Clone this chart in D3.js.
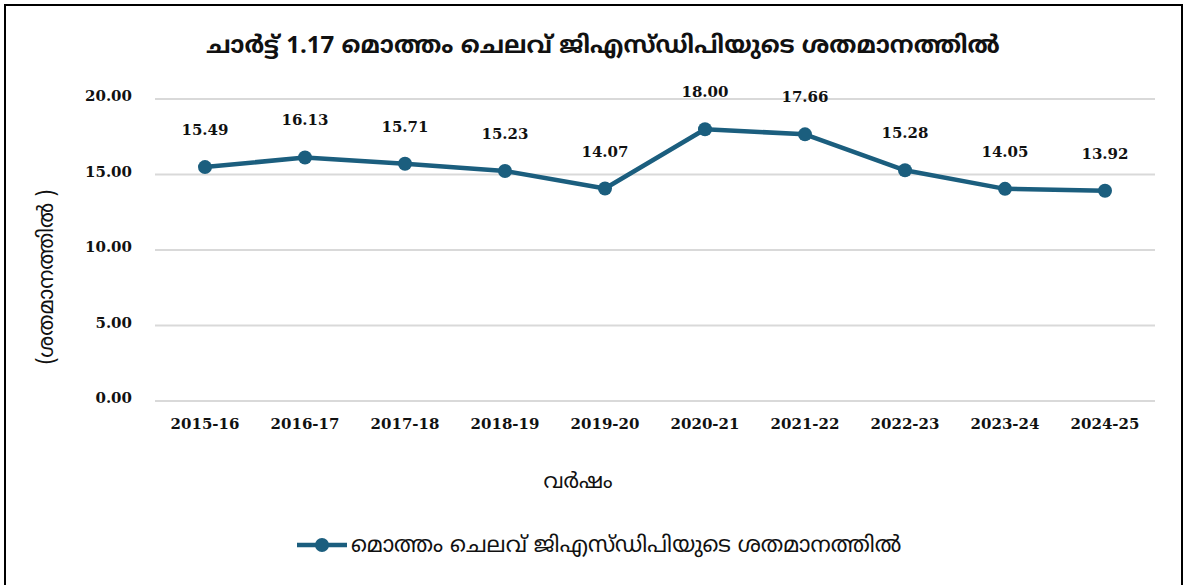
<!DOCTYPE html>
<html>
<head>
<meta charset="utf-8">
<script src="https://cdn.jsdelivr.net/npm/d3@7"></script>
<style>
  body { margin: 0; background: #fff; }
  text { fill: #111; }
</style>
</head>
<body>
<div id="chart"></div>
<script>
// Chart data
var years = ["2015-16", "2016-17", "2017-18", "2018-19", "2019-20", "2020-21", "2021-22", "2022-23", "2023-24", "2024-25"];
var values = [15.49, 16.13, 15.71, 15.23, 14.07, 18.00, 17.66, 15.28, 14.05, 13.92];
var yTicks = [0, 5, 10, 15, 20];

var titleText = "ചാർട്ട് 1.17 മൊത്തം ചെലവ് ജിഎസ്ഡിപിയുടെ ശതമാനത്തിൽ";
var seriesName = "മൊത്തം ചെലവ് ജിഎസ്ഡിപിയുടെ ശതമാനത്തിൽ";
var xTitle = "വർഷം";
var yTitle = "(ശതമാനത്തിൽ )";

var W = 1185, H = 585;
var lineColor = "#1b5e7e";
var numFont = "'DejaVu Serif', 'Liberation Serif', serif";
var mlFont = "'Noto Sans Malayalam', 'Noto Sans', sans-serif";

var svg = d3.select("#chart").append("svg")
  .attr("width", W)
  .attr("height", H);

// frame
svg.append("rect")
  .attr("x", 5).attr("y", 5)
  .attr("width", 1177).attr("height", 600)
  .attr("fill", "none")
  .attr("stroke", "#000")
  .attr("stroke-width", 2);

var x = d3.scaleBand()
  .domain(years)
  .range([155, 1155]);

var y = d3.scaleLinear()
  .domain([0, 20])
  .range([401, 99]);

// gridlines
svg.append("g")
  .selectAll("line")
  .data(yTicks)
  .enter().append("line")
    .attr("x1", 155).attr("x2", 1155)
    .attr("y1", d => y(d)).attr("y2", d => y(d))
    .attr("stroke", "#d9d9d9")
    .attr("stroke-width", 2);

// y axis labels
var yAxis = svg.append("g")
  .attr("transform", "translate(140,-3)")
  .call(d3.axisLeft(y).tickValues(yTicks).tickFormat(d3.format(".2f")).tickSize(0).tickPadding(8));
yAxis.select(".domain").remove();
yAxis.selectAll("text")
  .attr("font-family", numFont)
  .attr("font-weight", "bold")
  .attr("font-size", 15)
  .attr("fill", "#111");

// x axis labels
var xAxis = svg.append("g")
  .attr("transform", "translate(0,418)")
  .call(d3.axisBottom(x).tickSize(0).tickPadding(0));
xAxis.select(".domain").remove();
xAxis.selectAll("text")
  .attr("font-family", numFont)
  .attr("font-weight", "bold")
  .attr("font-size", 15)
  .attr("fill", "#111");

// line
var line = d3.line()
  .x((d, i) => x(years[i]) + x.bandwidth() / 2)
  .y(d => y(d));

svg.append("path")
  .datum(values)
  .attr("d", line)
  .attr("fill", "none")
  .attr("stroke", lineColor)
  .attr("stroke-width", 4.5)
  .attr("stroke-linejoin", "round");

svg.append("g")
  .selectAll("circle")
  .data(values)
  .enter().append("circle")
    .attr("cx", (d, i) => x(years[i]) + x.bandwidth() / 2)
    .attr("cy", d => y(d))
    .attr("r", 7)
    .attr("fill", lineColor);

// value labels
svg.append("g")
  .selectAll("text")
  .data(values)
  .enter().append("text")
    .attr("x", (d, i) => x(years[i]) + x.bandwidth() / 2)
    .attr("y", d => y(d) - 32)
    .attr("text-anchor", "middle")
    .attr("font-family", numFont)
    .attr("font-weight", "bold")
    .attr("font-size", 15)
    .text(d => d.toFixed(2));

// title
svg.append("text")
  .attr("x", 603).attr("y", 53)
  .attr("text-anchor", "middle")
  .attr("font-family", mlFont)
  .attr("font-weight", "bold")
  .attr("font-size", 24)
  .text(titleText);

// axis titles
svg.append("text")
  .attr("x", 578).attr("y", 488)
  .attr("text-anchor", "middle")
  .attr("font-family", mlFont)
  .attr("font-size", 21)
  .text(xTitle);

svg.append("text")
  .attr("transform", "translate(53,277) rotate(-90)")
  .attr("text-anchor", "middle")
  .attr("font-family", mlFont)
  .attr("font-size", 21)
  .text(yTitle);

// legend
var lg = svg.append("g").attr("transform", "translate(297,545)");
lg.append("line")
  .attr("x1", 0).attr("x2", 50)
  .attr("stroke", lineColor)
  .attr("stroke-width", 4.5);
lg.append("circle")
  .attr("cx", 25).attr("r", 7)
  .attr("fill", lineColor);
lg.append("text")
  .attr("x", 54).attr("y", 7)
  .attr("font-family", mlFont)
  .attr("font-size", 22.2)
  .text(seriesName);
</script>
</body>
</html>
